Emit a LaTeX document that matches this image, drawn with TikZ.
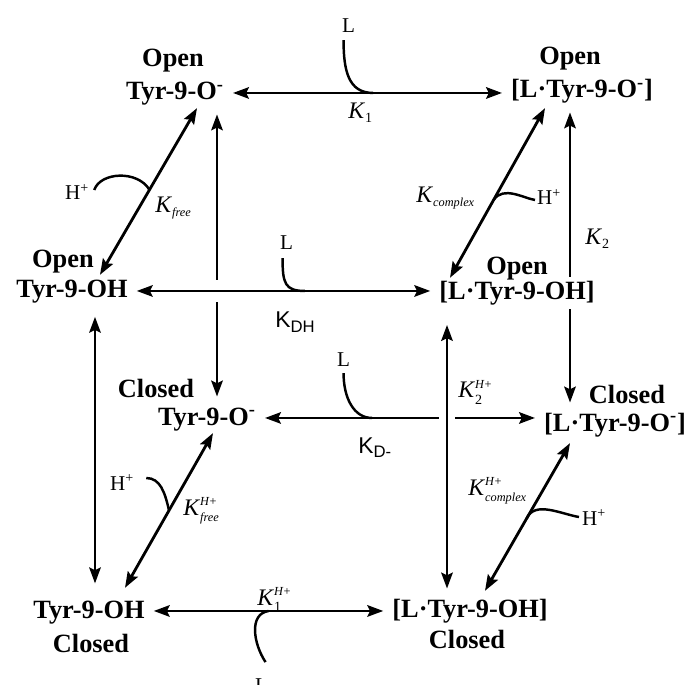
\documentclass[tikz,border=0pt]{standalone}
\usepackage{fontspec}
\setmainfont{Liberation Serif}
\setsansfont{Liberation Sans}
\usepackage{tikz}
\usetikzlibrary{arrows.meta,calc}
\pgfdeclarelayer{back}
\pgfsetlayers{back,main}
\newcommand{\ksub}[1]{\hbox{\fontsize{7}{7}\selectfont\itshape #1}}
\newcommand{\knum}[1]{\hbox{\fontsize{8}{8}\selectfont #1}}
\newcommand{\khp}{\hbox{\fontsize{7}{7}\selectfont\itshape H\kern.3pt\upshape+}}

\begin{document}
\begin{tikzpicture}[x=0.02cm, y=-0.02cm,
    spc/.style={font=\bfseries\fontsize{15}{17}\selectfont, anchor=base, inner sep=2pt, text height=11pt, text depth=3pt, fill=white},
    st/.style={font=\bfseries\fontsize{15}{17}\selectfont, anchor=base, inner sep=0pt},
    cst/.style={font=\fontsize{13.5}{16}\selectfont, anchor=base west, inner sep=0pt},
    ion/.style={font=\fontsize{12}{14}\selectfont, anchor=base west, inner sep=1pt},
    arr/.style={<->, >={Stealth[length=9pt,width=6.5pt,inset=1.5pt]}, line width=1.6pt},
    gap/.style={shorten <=3pt, shorten >=3pt},
    hook/.style={line width=1.4pt},
    cross/.style={preaction={draw=white, -, line width=#1}},
]
    \useasboundingbox (0,0) rectangle (689,685);

    % Species
    \node[spc] (ot)  at (175,100) {Tyr-9-O\textsuperscript{-}};
    \node[spc] (lot) at (582,98)  {[L·Tyr-9-O\textsuperscript{-}]};
    \node[spc] (oh)  at (72,298)  {Tyr-9-OH};
    \node[spc] (loh) at (517,300) {[L·Tyr-9-OH]};
    \node[spc] (ct)  at (207,425) {Tyr-9-O\textsuperscript{-}};
    \node[spc] (lct) at (615,431) {[L·Tyr-9-O\textsuperscript{-}]};
    \node[spc] (ch)  at (89,618)  {Tyr-9-OH};
    \node[spc] (lch) at (470,617) {[L·Tyr-9-OH]};

    % Open / Closed
    \node[st] (ot-s)  at (173,67)  {Open};
    \node[st] (lot-s) at (570,65)  {Open};
    \node[st] (oh-s)  at (63,268)  {Open};
    \node[st] (loh-s) at (517,275) {Open};
    \node[st] (ct-s)  at (156,398) {Closed};
    \node[st] (lct-s) at (627,403) {Closed};
    \node[st] (ch-s)  at (91,652)  {Closed};
    \node[st] (lch-s) at (467,648) {Closed};

    % Ligand and proton labels
    \node[ion] (lA) at (340,33)  {L};
    \node[ion] (lB) at (278,250) {L};
    \node[ion] (lC) at (335,367) {L};
    \node[ion] (lD) at (253,692) {L};
    \node[ion] (hE) at (63,200)  {H\textsuperscript{+}};
    \node[ion] (hF) at (535,205) {H\textsuperscript{+}};
    \node[ion] (hG) at (108,490) {H\textsuperscript{+}};
    \node[ion] (hH) at (580,525) {H\textsuperscript{+}};

    % Constants
    \node[cst] (k1)   at (348,119) {\textit{K}$_{\knum{1}}$};
    \node[cst] (kdh)  at (275,328) {\sffamily\fontsize{13}{15}\selectfont K$_{\hbox{\sffamily\fontsize{9.5}{10}\selectfont DH}}$};
    \node[cst] (kdm)  at (358,453) {\sffamily\fontsize{13}{15}\selectfont K$_{\hbox{\sffamily\fontsize{9.5}{10}\selectfont D-}}$};
    \node[cst] (k1h)  at (257,605) {\textit{K}$^{\khp}_{\knum{1}}$};
    \node[cst] (kfr)  at (155,213) {\textit{K}$_{\ksub{free}}$};
    \node[cst] (kcx)  at (416,203) {\textit{K}$_{\ksub{complex}}$};
    \node[cst] (k2)   at (585,245) {\textit{K}$_{\knum{2}}$};
    \node[cst] (kfrh) at (183,515) {\textit{K}$^{\khp}_{\ksub{free}}$};
    \node[cst] (k2h)  at (458,398) {\textit{K}$^{\khp}_{\knum{2}}$};
    \node[cst] (kcxh) at (468,495) {\textit{K}$^{\khp}_{\ksub{complex}}$};

    % Lanes of the vertical arrows
    \coordinate (lane1) at (217,0);
    \coordinate (lane2) at (95,0);
    \coordinate (lane3) at (570,0);
    \coordinate (lane4) at (447,0);

    % Vertical arrows
    \draw[arr, gap] (ot.south -| lane1) -- (ct.north -| lane1);
    \draw[arr, gap, shorten <=5.5pt, shorten >=6.5pt] (oh.south -| lane2) -- (ch.north -| lane2);
    \begin{pgfonlayer}{back}
        \draw[arr, gap] (lot.south -| lane3) -- (lct.north -| lane3);
    \end{pgfonlayer}

    % Horizontal arrows
    \draw[arr, gap] (ot.east) -- (ot.east -| lot.west) coordinate[pos=0.52] (jA);
    \draw[arr, gap] (ct.east) -- (ct.east -| lct.west) coordinate[pos=0.40] (jC);
    \draw[arr, gap, cross=12pt] (oh.east) -- (oh.east -| loh.west) coordinate[pos=0.57] (jB);
    \draw[arr, gap] (ch.east) -- (ch.east -| lch.west) coordinate[pos=0.5] (jD);
    \draw[arr, gap, shorten <=9pt, cross=9pt] (loh.south -| lane4) -- (lch.north -| lane4);

    % Diagonal arrows
    \draw[arr] ($(ot.south)+(22,-1)$) -- ($(oh.north)+(28,0)$) coordinate[pos=0.49] (jE);
    \draw[arr] ($(lot.south)+(-37,1)$) -- ($(loh.north)+(-67,1)$) coordinate[pos=0.54] (jF);
    \draw[arr] ($(ct.south)+(6,-1)$) -- ($(ch.north)+(36,-7)$) coordinate[pos=0.5] (jG);
    \draw[arr] ($(lct.south)+(-45,3)$) -- ($(lch.north)+(15,-3)$) coordinate[pos=0.51] (jH);

    % Hooks
    \draw[hook] ($(lA.south)+(-5,5)$) .. controls +(0,30) and +(-25,0) .. (jA);
    \draw[hook] ($(lB.south)+(-4,6)$) .. controls +(0,25) and +(-20,0) .. (jB);
    \draw[hook] ($(lC.south)+(0,4)$) .. controls +(0,25) and +(-18,0) .. (jC);
    \draw[hook] (jD) .. controls +(-20,3) and +(-12,-18) .. ($(lD.north)+(4,-14)$);
    \draw[hook] ($(hE.base east)+(3,-10)$) .. controls +(6,-18) and +(-12,-20) .. (jE);
    \draw[hook] (jF) .. controls +(10,-14) and +(-12,-2) .. ($(hF.base west)+(0,-5)$);
    \draw[hook] ($(hG.base east)+(10,-12)$) .. controls +(14,0) and +(-4,-18) .. (jG);
    \draw[hook] (jH) .. controls +(8,-18) and +(-18,-3) .. ($(hH.base west)+(-1,-8)$);
\end{tikzpicture}
\end{document}
